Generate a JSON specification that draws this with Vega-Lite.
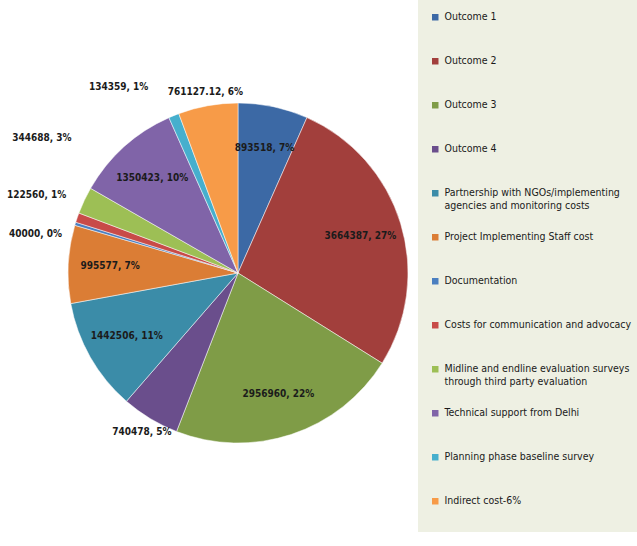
{
  "$schema": "https://vega.github.io/schema/vega-lite/v6.json",
  "width": 360,
  "height": 546,
  "padding": {"left": 58, "top": 0, "right": 219, "bottom": 0},
  "autosize": {"type": "none"},
  "background": "#ffffff",
  "data": {
    "values": [
      {"idx": 1, "category": "Outcome 1", "value": 893518, "label": "893518, 7%"},
      {"idx": 2, "category": "Outcome 2", "value": 3664387, "label": "3664387, 27%"},
      {"idx": 3, "category": "Outcome 3", "value": 2956960, "label": "2956960, 22%"},
      {"idx": 4, "category": "Outcome 4", "value": 740478, "label": "740478, 5%"},
      {"idx": 5, "category": "Partnership with NGOs/implementing agencies and monitoring costs", "value": 1442506, "label": "1442506, 11%"},
      {"idx": 6, "category": "Project Implementing Staff cost", "value": 995577, "label": "995577, 7%"},
      {"idx": 7, "category": "Documentation", "value": 40000, "label": "40000, 0%"},
      {"idx": 8, "category": "Costs for communication and advocacy", "value": 122560, "label": "122560, 1%"},
      {"idx": 9, "category": "Midline and endline evaluation surveys through third party evaluation", "value": 344688, "label": "344688, 3%"},
      {"idx": 10, "category": "Technical support from Delhi", "value": 1350423, "label": "1350423, 10%"},
      {"idx": 11, "category": "Planning phase baseline survey", "value": 134359, "label": "134359, 1%"},
      {"idx": 12, "category": "Indirect cost-6%", "value": 761127.12, "label": "761127.12, 6%"}
    ]
  },
  "encoding": {
    "theta": {"field": "value", "type": "quantitative", "stack": true},
    "order": {"field": "idx", "type": "quantitative"}
  },
  "layer": [
    {
      "mark": {"type": "arc", "outerRadius": 170, "stroke": "#ffffff", "strokeWidth": 0.5},
      "encoding": {
        "color": {
          "field": "category",
          "type": "nominal",
          "scale": {
            "domain": ["Outcome 1", "Outcome 2", "Outcome 3", "Outcome 4", "Partnership with NGOs/implementing agencies and monitoring costs", "Project Implementing Staff cost", "Documentation", "Costs for communication and advocacy", "Midline and endline evaluation surveys through third party evaluation", "Technical support from Delhi", "Planning phase baseline survey", "Indirect cost-6%"],
            "range": ["#3C69A5", "#A23F3C", "#7F9C47", "#6A4E8C", "#3B8CA8", "#DB7D35", "#4B7FC0", "#C84B48", "#9DBF55", "#8064A8", "#46AFCD", "#F79B48"]
          },
          "legend": {
            "title": null,
            "orient": "right",
            "offset": 0,
            "padding": 12,
            "fillColor": "#EEF0E3",
            "symbolType": "square",
            "symbolSize": 42,
            "symbolStrokeWidth": 0,
            "labelFont": "DejaVu Sans Condensed",
            "labelFontSize": 10.5,
            "labelColor": "#1a1a1a",
            "labelLimit": 300,
            "labelOffset": 4,
            "rowPadding": 20,
            "labelBaseline": "middle",
            "labelExpr": "datum.label == 'Partnership with NGOs/implementing agencies and monitoring costs' ? ['Partnership with NGOs/implementing', 'agencies and monitoring costs'] : datum.label == 'Midline and endline evaluation surveys through third party evaluation' ? ['Midline and endline evaluation surveys', 'through third party evaluation'] : [datum.label, '']"
          }
        }
      }
    },
    {
      "mark": {"type": "text", "radius": 128, "font": "DejaVu Sans Condensed", "fontSize": 10, "fontWeight": "bold", "fill": "#1b1b1b"},
      "encoding": {"text": {"condition": {"test": "datum.value >= 800000", "field": "label", "type": "nominal"}, "value": ""}}
    },
    {
      "mark": {"type": "text", "radius": 184, "align": "center", "font": "DejaVu Sans Condensed", "fontSize": 10, "fontWeight": "bold", "fill": "#1b1b1b"},
      "encoding": {"text": {"condition": {"test": "datum.category == 'Indirect cost-6%'", "field": "label", "type": "nominal"}, "value": ""}}
    },
    {
      "mark": {"type": "text", "radius": 190, "align": "right", "dx": -18, "dy": -10, "font": "DejaVu Sans Condensed", "fontSize": 10, "fontWeight": "bold", "fill": "#1b1b1b"},
      "encoding": {"text": {"condition": {"test": "datum.category == 'Planning phase baseline survey'", "field": "label", "type": "nominal"}, "value": ""}}
    },
    {
      "mark": {"type": "text", "radius": 195, "align": "right", "dx": 10, "dy": -52, "font": "DejaVu Sans Condensed", "fontSize": 10, "fontWeight": "bold", "fill": "#1b1b1b"},
      "encoding": {"text": {"condition": {"test": "datum.category == 'Midline and endline evaluation surveys through third party evaluation'", "field": "label", "type": "nominal"}, "value": ""}}
    },
    {
      "mark": {"type": "text", "radius": 190, "align": "right", "dx": 8, "dy": -16, "font": "DejaVu Sans Condensed", "fontSize": 10, "fontWeight": "bold", "fill": "#1b1b1b"},
      "encoding": {"text": {"condition": {"test": "datum.category == 'Costs for communication and advocacy'", "field": "label", "type": "nominal"}, "value": ""}}
    },
    {
      "mark": {"type": "text", "radius": 190, "align": "right", "dx": 6, "dy": 16, "font": "DejaVu Sans Condensed", "fontSize": 10, "fontWeight": "bold", "fill": "#1b1b1b"},
      "encoding": {"text": {"condition": {"test": "datum.category == 'Documentation'", "field": "label", "type": "nominal"}, "value": ""}}
    },
    {
      "mark": {"type": "text", "radius": 186, "align": "center", "font": "DejaVu Sans Condensed", "fontSize": 10, "fontWeight": "bold", "fill": "#1b1b1b"},
      "encoding": {"text": {"condition": {"test": "datum.category == 'Outcome 4'", "field": "label", "type": "nominal"}, "value": ""}}
    }
  ],
  "config": {"view": {"stroke": null}}
}
